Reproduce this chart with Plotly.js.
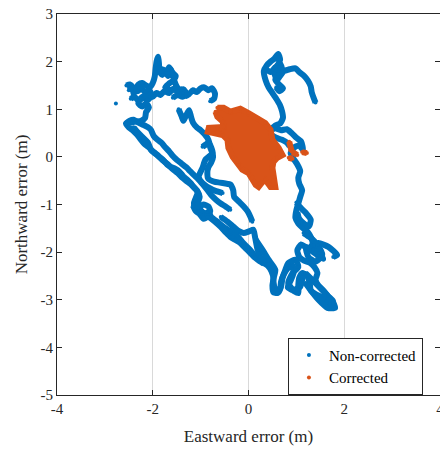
<!DOCTYPE html>
<html><head><meta charset="utf-8">
<script src="https://cdn.plot.ly/plotly-3.0.1.min.js"></script>
<style>html,body{margin:0;padding:0;background:#fff}#chart{width:440px;height:452px}</style>
</head><body><div id="chart"></div>
<script>
// Non-corrected trajectory (eastward, northward errors in m); null separates pieces
const ncEast = [
 -2.77, null,
 -2.55,-2.48,-2.42,-2.40,-2.36,-2.30,-2.22,-2.14,-2.06,-2.00,-1.96,-1.94,-1.92,-1.89,-1.87,-1.86,-1.80,-1.74,-1.68,-1.62,-1.58,-1.55,-1.50,-1.44,-1.38,-1.30,-1.24,-1.16,-1.08,-1.00,-0.92,-0.84,-0.76,-0.70,-0.72,-0.80, null,
 -1.80,-1.72,-1.66,-1.60,-1.52,-1.58,-1.66,-1.74,-1.62,-1.52,-1.44,-1.36,-1.30,-1.38,-1.48,-1.58, null,
 -2.50,-2.42,-2.32,-2.24,-2.16,-2.08,-2.02,-2.10,-2.20,-2.30,-2.38,-2.46, null,
 -1.40,-1.48,-1.58,-1.66,-1.76,-1.84,-1.92,-2.00,-2.08,-2.18,-2.26,-2.30,-2.22,-2.14,-2.08,-2.14,-2.16,-2.24,-2.36,-2.46,-2.56,-2.50,-2.42,-2.34,-2.26,-2.18,-2.08,-1.98,-1.88,-1.78,-1.68,-1.58,-1.48,-1.38,-1.28,-1.18,-1.08,-1.02,-1.06,-1.00,-0.92,-0.84,-0.78,-0.68,-0.58,-0.48,-0.38,-0.28,-0.20,-0.12,-0.04,0.04,0.12,0.20,0.30,0.40,0.48,0.52,0.50,0.52,0.60,0.66,0.68,0.74,0.82,0.92,0.94,0.88,0.82,0.92,1.04,1.04,1.06,1.12,1.22,1.28,1.30,1.40,1.52,1.62,1.70,1.78,1.76,1.66,1.56,1.46,1.40,1.44,1.38,1.28,1.16,1.06,1.02,1.10,1.20,1.30,1.44,1.56,1.48,1.36,1.32,1.24,1.14,1.04,0.98,1.00,1.04,1.08,1.12,1.06,1.04,1.08,1.02,0.94,0.88,0.96,1.06,1.14,1.10,1.00,0.90,0.80,0.68,0.56,0.48,0.56,0.66,0.72,0.70,0.66,0.58,0.50,0.42,0.36,0.32,0.38,0.46,0.54,0.62,0.66,0.60,0.54,0.60,0.66,0.74,0.86,0.98,1.06,1.16,1.24,1.30,1.32,1.36,1.40, null,
 -2.56,-2.48,-2.40,-2.30,-2.19,-2.10,-2.04,-1.98,-1.90,-1.82,-1.74,-1.66,-1.58,-1.50,-1.40,-1.30,-1.22,-1.12,-1.02,-0.92,-0.84,-0.78,-0.68,-0.58,-0.48,-0.38, null,
 -2.40,-2.30,-2.20,-2.10,-2.04,-1.94,-1.84,-1.77,-1.70,-1.63,-1.55,-1.48,-1.40,-1.35,-1.28,-1.21,-1.14,-1.06,-1.10,-1.14,-1.08,-0.98,-0.88,-0.80,-0.70,-0.58,-0.48,-0.38,-0.28,-0.18,-0.10,-0.02,0.06,0.14,0.22,0.32, null,
 -1.46,-1.40,-1.36,-1.30,-1.24,-1.20,-1.16,-1.08,-1.00,-0.92,-0.86,-0.82,-0.80,-0.76,-0.74,-0.78,-0.84,-0.86,-0.84,-0.72,-0.60,-0.48,-0.38,-0.32,-0.30,-0.20,-0.10,-0.02,0.04,0.08, null,
 -1.16,-1.10,-1.02,-0.94,-0.86,-0.80,-0.84,-0.94,-1.04,-1.12, null,
 -0.58,-0.44,-0.31,-0.20,-0.10,0.02,0.10,0.14,0.19,0.25,0.34,0.42, null,
 0.48,0.58,0.70,0.80,0.86, null,
 1.30,1.46,1.67,1.85,1.77, null,
 1.00,1.10,1.20,1.30,1.26,1.16,1.06,1.02, null,
 0.36,0.46,0.56,0.66,0.70,0.62,0.56,0.64,0.72,0.64,0.58, null,
 1.19,1.40,1.60,1.77,1.81,1.65,1.46,1.29,1.19, null,
 1.15,1.30,1.44,1.54,1.40,1.25,1.20,1.35,1.50, null,
 0.15,0.29,0.42,0.56,0.52,0.56,0.67,0.71,0.77,0.83,0.98,1.04,0.92,0.83,0.94,1.08,1.13, null,
 -0.96,-0.83,-0.75,-0.90,-0.96,-1.04,-0.96,-0.75,-0.54
];
const ncNorth = [
 1.12, null,
 1.50,1.52,1.46,1.32,1.42,1.52,1.55,1.50,1.46,1.55,1.68,1.86,2.00,2.10,1.96,1.80,1.72,1.80,1.70,1.84,1.72,1.60,1.48,1.40,1.34,1.28,1.32,1.40,1.36,1.44,1.46,1.40,1.44,1.33,1.22,1.17, null,
 1.86,1.76,1.88,1.78,1.70,1.60,1.54,1.46,1.40,1.44,1.34,1.42,1.32,1.26,1.30,1.24, null,
 1.40,1.46,1.38,1.44,1.36,1.40,1.30,1.20,1.24,1.18,1.26,1.22, null,
 1.44,1.38,1.42,1.34,1.38,1.30,1.34,1.26,1.32,1.28,1.22,1.12,1.06,1.12,1.04,0.94,0.82,0.76,0.74,0.72,0.70,0.62,0.56,0.48,0.38,0.28,0.20,0.10,0.02,-0.08,-0.16,-0.26,-0.34,-0.44,-0.52,-0.60,-0.70,-0.84,-0.98,-1.12,-1.20,-1.16,-1.26,-1.34,-1.42,-1.50,-1.56,-1.62,-1.70,-1.80,-1.88,-1.96,-2.06,-2.14,-2.22,-2.28,-2.40,-2.55,-2.70,-2.84,-2.86,-2.78,-2.62,-2.46,-2.34,-2.28,-2.44,-2.60,-2.74,-2.80,-2.86,-2.70,-2.54,-2.44,-2.50,-2.66,-2.80,-2.88,-2.94,-3.02,-3.10,-3.16,-3.02,-2.92,-2.80,-2.70,-2.58,-2.44,-2.32,-2.22,-2.18,-2.10,-1.96,-1.84,-1.90,-1.96,-2.06,-2.14,-2.02,-1.86,-1.72,-1.58,-1.50,-1.40,-1.28,-1.12,-0.98,-0.84,-0.70,-0.56,-0.44,-0.30,-0.16,-0.04,0.08,0.20,0.24,0.14,0.32,0.40,0.50,0.58,0.56,0.60,0.58,0.66,0.70,0.82,0.96,1.08,1.22,1.34,1.46,1.60,1.80,1.92,2.00,2.06,2.16,2.04,1.90,1.76,1.62,1.70,1.80,1.84,1.86,1.78,1.70,1.60,1.48,1.36,1.24,1.14, null,
 0.70,0.76,0.78,0.72,0.67,0.62,0.57,0.44,0.36,0.30,0.20,0.12,0.02,-0.06,-0.14,-0.22,-0.30,-0.40,-0.50,-0.62,-0.72,-0.80,-0.90,-0.98,-1.04,-1.11, null,
 0.62,0.50,0.40,0.30,0.15,0.06,-0.02,-0.08,-0.16,-0.21,-0.24,-0.28,-0.36,-0.42,-0.48,-0.55,-0.64,-0.74,-0.86,-0.98,-1.08,-1.14,-1.22,-1.28,-1.36,-1.47,-1.58,-1.68,-1.74,-1.80,-1.88,-1.96,-2.04,-2.12,-2.18,-2.24, null,
 1.00,0.86,0.76,0.88,0.98,0.84,0.72,0.62,0.56,0.48,0.40,0.30,0.20,0.10,0.00,-0.12,-0.22,-0.34,-0.46,-0.52,-0.54,-0.56,-0.58,-0.70,-0.84,-0.94,-1.04,-1.14,-1.26,-1.36, null,
 -1.02,-1.14,-1.20,-1.30,-1.26,-1.14,-1.04,-1.00,-1.06,-1.12, null,
 -1.26,-1.36,-1.47,-1.56,-1.60,-1.56,-1.53,-1.70,-1.95,-2.10,-2.18,-2.26, null,
 0.46,0.40,0.36,0.30,0.22, null,
 -1.85,-1.81,-1.89,-2.06,-2.10, null,
 -0.96,-1.08,-1.18,-1.32,-1.46,-1.40,-1.30,-1.16, null,
 1.84,1.78,1.88,1.96,1.84,1.74,1.62,1.52,1.44,1.38,1.46, null,
 -2.44,-2.65,-2.86,-3.07,-3.17,-3.17,-3.00,-2.79,-2.65, null,
 -1.60,-1.70,-1.85,-2.05,-2.20,-2.10,-1.90,-1.95,-2.15, null,
 -1.74,-1.95,-2.16,-2.37,-2.58,-2.79,-2.75,-2.54,-2.37,-2.23,-2.16,-2.31,-2.44,-2.65,-2.79,-2.73,-2.52, null,
 0.21,0.29,0.08,-0.06,-0.23,-0.42,-0.55,-0.69,-0.76
];
// Corrected cluster: outline of the dense blob, then small separate pieces
const cEast = [
 -0.65,-0.52,-0.38,-0.17,0.00,0.19,0.35,0.46,0.50,0.63,0.71,0.60,0.52,0.50,0.52,0.56,0.46,0.35,0.29,0.21,0.15,0.08,0.00,-0.13,-0.21,-0.33,-0.42,-0.44,-0.54,-0.73,-0.85,-0.83,-0.65,-0.52,-0.54,-0.65,-0.69, null,
 0.85,0.88,0.90, null, 0.92,0.98,1.02, null, 1.12,1.22, null, 0.84,0.92
];
const cNorth = [
 1.03,1.03,0.95,1.01,0.92,0.82,0.71,0.57,0.36,0.19,0.04,-0.02,-0.11,-0.23,-0.42,-0.63,-0.63,-0.48,-0.53,-0.63,-0.59,-0.44,-0.34,-0.27,-0.17,0.00,0.19,0.36,0.46,0.50,0.53,0.61,0.61,0.63,0.74,0.84,0.95, null,
 0.32,0.20,0.12, null, 0.10,0.06,0.04, null, 0.10,0.08, null, -0.02,-0.04
];
const seriesNames = ['Non-corrected', 'Corrected'];
const xTicks = [-4, -2, 0, 2, 4];
const yTicks = [-5, -4, -3, -2, -1, 0, 1, 2, 3];

const BLUE = '#0072BD', ORANGE = '#D95319';
const FONT = 'Liberation Serif';

const traces = [
 {x: ncEast, y: ncNorth, type: 'scatter', mode: 'lines', line: {color: BLUE, width: 6, shape: 'spline', smoothing: 0.6}, showlegend: false, hoverinfo: 'skip'},
 {x: ncEast, y: ncNorth, type: 'scatter', mode: 'markers', name: seriesNames[0], marker: {color: BLUE, size: 4}},
 {x: cEast, y: cNorth, type: 'scatter', mode: 'lines', fill: 'toself', fillcolor: ORANGE, line: {color: ORANGE, width: 6}, showlegend: false, hoverinfo: 'skip'},
 {x: cEast, y: cNorth, type: 'scatter', mode: 'markers', name: seriesNames[1], marker: {color: ORANGE, size: 4}}
];

const axisCommon = {
 showline: true, linecolor: '#262626', linewidth: 1, mirror: 'ticks',
 ticks: 'inside', ticklen: 5, tickcolor: '#262626', tickwidth: 1,
 zeroline: false, tickfont: {family: FONT, size: 15, color: '#262626'},
 ticklabeloverflow: 'allow', fixedrange: true
};

const layout = {
 width: 440, height: 452,
 margin: {l: 57, r: 0, t: 14, b: 57},
 paper_bgcolor: '#fff', plot_bgcolor: '#fff',
 font: {family: FONT, color: '#262626'},
 xaxis: Object.assign({}, axisCommon, {
  range: [-4, 4], tickmode: 'array', tickvals: xTicks, ticktext: xTicks.map(String),
  showgrid: true, gridcolor: '#d9d9d9', gridwidth: 1,
  title: {text: 'Eastward error (m)', font: {family: FONT, size: 17, color: '#262626'}, standoff: 14}
 }),
 yaxis: Object.assign({}, axisCommon, {
  range: [-5, 3], tickmode: 'array', tickvals: yTicks, ticktext: yTicks.map(String),
  showgrid: false,
  title: {text: 'Northward error (m)', font: {family: FONT, size: 17, color: '#262626'}, standoff: 8}
 }),
 legend: {
  x: 0.603, y: 0.15, xanchor: 'left', yanchor: 'top',
  bgcolor: '#fff', bordercolor: '#262626', borderwidth: 1,
  font: {family: FONT, size: 15, color: '#000'}, itemwidth: 30, tracegroupgap: 0
 },
 showlegend: true
};

Plotly.newPlot('chart', traces, layout, {displayModeBar: false, staticPlot: true});
</script>
</body></html>
